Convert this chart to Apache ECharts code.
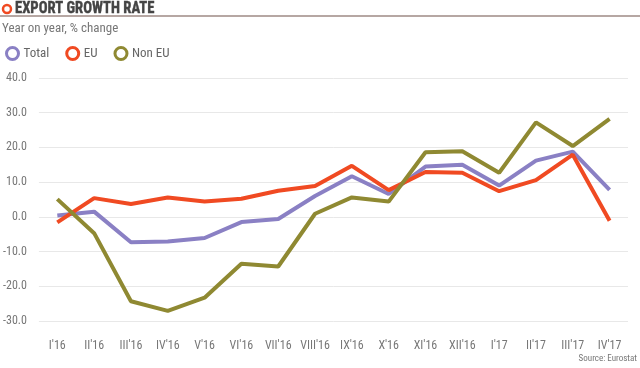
<!DOCTYPE html>
<html><head><meta charset="utf-8">
<script src="https://cdn.jsdelivr.net/npm/echarts@6/dist/echarts.min.js"></script>
<style>html,body{margin:0;padding:0;background:#fff}#c{width:640px;height:368px}</style>
</head><body><div id="c"></div>
<script>
const categories = ["I'16","II'16","III'16","IV'16","V'16","VI'16","VII'16","VIII'16","IX'16","X'16","XI'16","XII'16","I'17","II'17","III'17","IV'17"];
const total = [0.4,1.5,-7.3,-7.1,-6.1,-1.5,-0.6,6.0,11.7,6.6,14.5,15.0,9.0,16.2,18.8,7.8];
const eu = [-1.6,5.4,3.7,5.6,4.4,5.2,7.5,8.9,14.7,7.7,12.9,12.7,7.4,10.6,17.9,-1.1];
const nonEu = [5.1,-4.7,-24.3,-27.1,-23.3,-13.5,-14.3,0.9,5.6,4.4,18.6,18.9,12.7,27.2,20.4,28.2];
const yTicks = {min:-30, max:40, interval:10};
const font = '"Liberation Sans Narrow","Roboto Condensed","DejaVu Sans Condensed",Roboto,sans-serif';
const colors = {total:'#8a80c4', eu:'#f04a22', nonEu:'#8f8932'};
const chart = echarts.init(document.getElementById('c'));
chart.setOption({
  animation:false,
  textStyle:{fontFamily:font},
  graphic:[
    {type:'circle',shape:{cx:7,cy:9,r:4},style:{fill:'#fff',stroke:'#f04a22',lineWidth:2.5}},
    {type:'text',x:15,y:0,scaleX:0.86,style:{text:'EXPORT GROWTH RATE',font:'bold 17px '+font,fill:'#444',stroke:'#444',lineWidth:0.4}},
    {type:'line',shape:{x1:0,y1:16,x2:640,y2:16},style:{stroke:'#6e5048',lineWidth:1.2}},
    {type:'text',x:2,y:22,style:{text:'Year on year, % change',font:'13px '+font,fill:'#777'}},
    {type:'text',right:3,top:354,style:{text:'Source: Eurostat',font:'9px '+font,fill:'#777'}}
  ],
  legend:{
    left:0, top:41, itemGap:16, itemWidth:12, itemHeight:12,
    icon:'circle',
    textStyle:{fontFamily:font,fontSize:13,color:'#666'},
    data:[
      {name:'Total',itemStyle:{color:'#fff',borderColor:colors.total,borderWidth:3}},
      {name:'EU',itemStyle:{color:'#fff',borderColor:colors.eu,borderWidth:3}},
      {name:'Non EU',itemStyle:{color:'#fff',borderColor:colors.nonEu,borderWidth:3}}
    ]
  },
  grid:{left:38,right:12,top:78,bottom:47},
  xAxis:{type:'category',data:categories,boundaryGap:true,
    axisLine:{show:false},axisTick:{show:false},
    axisLabel:{color:'#777',fontSize:12,margin:19,interval:0,fontFamily:font}},
  yAxis:{type:'value',min:yTicks.min,max:yTicks.max,interval:yTicks.interval,
    axisLine:{show:false},axisTick:{show:false},
    splitLine:{lineStyle:{color:'#e8e8e8',width:1}},
    axisLabel:{color:'#777',fontSize:12,margin:12,fontFamily:font,formatter:v=>v.toFixed(1)}},
  series:[
    {name:'Total',type:'line',data:total,symbol:'none',lineStyle:{width:4,color:colors.total},itemStyle:{color:colors.total}},
    {name:'EU',type:'line',data:eu,symbol:'none',lineStyle:{width:4,color:colors.eu},itemStyle:{color:colors.eu}},
    {name:'Non EU',type:'line',data:nonEu,symbol:'none',lineStyle:{width:4,color:colors.nonEu},itemStyle:{color:colors.nonEu}}
  ]
});
</script></body></html>
